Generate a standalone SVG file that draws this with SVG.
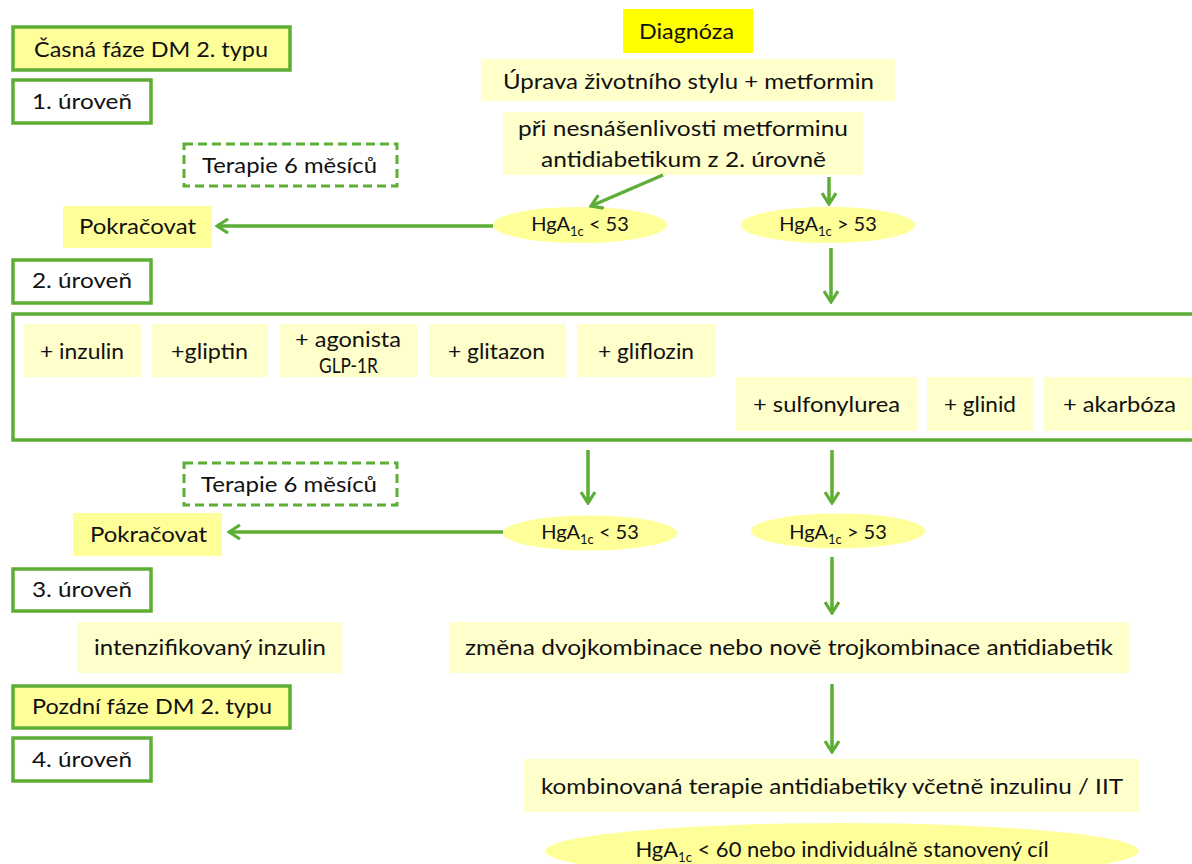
<svg xmlns="http://www.w3.org/2000/svg" width="1192" height="864" viewBox="0 0 1192 864">
<style>
text{font-family:Lato,"Open Sans","Liberation Sans",sans-serif;fill:#111;font-size:22px}
.lvl{fill:#fff;stroke:#5DAE34;stroke-width:3.5}
.phase{fill:#FFFF99;stroke:#5DAE34;stroke-width:3.5}
.dash{fill:#fff;stroke:#5DAE34;stroke-width:3;stroke-dasharray:9 5}
.pale{fill:#FFFFCC}
.yel{fill:#FFFF99}
.ell{fill:#FFFF99}
.hg{font-size:20px}
.sub{font-size:13px}
.c line{stroke:#5DAE34;stroke-width:3.5;marker-end:url(#arr)}
</style>
<defs>
<marker id="arr" viewBox="0 0 14 16" refX="12" refY="8" markerWidth="14" markerHeight="16" markerUnits="userSpaceOnUse" orient="auto">
<path d="M1,1 L12,8 L1,15" fill="none" stroke="#5DAE34" stroke-width="3.2"/>
</marker>
</defs>

<g id="casna"><rect class="phase" x="13" y="27" width="277" height="43"/><text x="34" y="57" textLength="234" lengthAdjust="spacingAndGlyphs">Časná fáze DM 2. typu</text></g>
<g id="lvl1"><rect class="lvl" x="13" y="80" width="138" height="43"/><text x="32" y="109" textLength="100" lengthAdjust="spacingAndGlyphs">1. úroveň</text></g>
<g id="terapie1"><rect class="dash" x="184" y="144" width="213" height="42"/><text x="202" y="173" textLength="175" lengthAdjust="spacingAndGlyphs">Terapie 6 měsíců</text></g>
<g id="pokracovat1"><rect class="yel" x="63" y="206" width="149" height="42"/><text x="79" y="234" textLength="117" lengthAdjust="spacingAndGlyphs">Pokračovat</text></g>
<g id="lvl2"><rect class="lvl" x="13" y="260" width="138" height="43"/><text x="32" y="288" textLength="100" lengthAdjust="spacingAndGlyphs">2. úroveň</text></g>

<g id="diagnoza"><rect x="623" y="9" width="130" height="44" fill="#FFFF00"/><text x="639" y="39" textLength="95" lengthAdjust="spacingAndGlyphs">Diagnóza</text></g>
<g id="uprava"><rect class="pale" x="481" y="59" width="414" height="42"/><text x="503" y="89" textLength="371" lengthAdjust="spacingAndGlyphs">Úprava životního stylu + metformin</text></g>
<g id="nesnasenlivost"><rect class="pale" x="503" y="112" width="360" height="63"/><text x="518" y="136" textLength="330" lengthAdjust="spacingAndGlyphs">při nesnášenlivosti metforminu</text><text x="541" y="167" textLength="285" lengthAdjust="spacingAndGlyphs">antidiabetikum z 2. úrovně</text></g>

<g id="hg1lt"><ellipse class="ell" cx="580" cy="225" rx="87" ry="18"/><text class="hg" x="580" y="231" text-anchor="middle">HgA<tspan class="sub" dy="5">1c</tspan><tspan dy="-5"> &lt; 53</tspan></text></g>
<g id="hg1gt"><ellipse class="ell" cx="828" cy="225" rx="87" ry="18"/><text class="hg" x="828" y="231" text-anchor="middle">HgA<tspan class="sub" dy="5">1c</tspan><tspan dy="-5"> &gt; 53</tspan></text></g>

<g id="lvl2box"><rect x="13" y="314" width="1200" height="126" fill="none" stroke="#5DAE34" stroke-width="3.5"/></g>
<g id="inzulin"><rect class="pale" x="24" y="324" width="117" height="53"/><text x="40" y="359" textLength="84" lengthAdjust="spacingAndGlyphs">+ inzulin</text></g>
<g id="gliptin"><rect class="pale" x="152" y="324" width="116" height="53"/><text x="171" y="359" textLength="77" lengthAdjust="spacingAndGlyphs">+gliptin</text></g>
<g id="agonista"><rect class="pale" x="280" y="324" width="137" height="53"/><text x="295" y="347" textLength="106" lengthAdjust="spacingAndGlyphs">+ agonista</text><text x="319" y="373" font-size="16" textLength="59" lengthAdjust="spacingAndGlyphs">GLP-1R</text></g>
<g id="glitazon"><rect class="pale" x="429" y="324" width="137" height="53"/><text x="448" y="359" textLength="97" lengthAdjust="spacingAndGlyphs">+ glitazon</text></g>
<g id="gliflozin"><rect class="pale" x="577" y="324" width="138" height="53"/><text x="598" y="359" textLength="96" lengthAdjust="spacingAndGlyphs">+ gliflozin</text></g>
<g id="sulfonylurea"><rect class="pale" x="736" y="377" width="181" height="54"/><text x="753" y="412" textLength="147" lengthAdjust="spacingAndGlyphs">+ sulfonylurea</text></g>
<g id="glinid"><rect class="pale" x="927" y="377" width="107" height="54"/><text x="944" y="412" textLength="72" lengthAdjust="spacingAndGlyphs">+ glinid</text></g>
<g id="akarboza"><rect class="pale" x="1044" y="377" width="160" height="54"/><text x="1063" y="412" textLength="113" lengthAdjust="spacingAndGlyphs">+ akarbóza</text></g>

<g id="terapie2"><rect class="dash" x="184" y="463" width="213" height="42"/><text x="201" y="492" textLength="176" lengthAdjust="spacingAndGlyphs">Terapie 6 měsíců</text></g>
<g id="pokracovat2"><rect class="yel" x="73" y="513" width="149" height="43"/><text x="90" y="542" textLength="117" lengthAdjust="spacingAndGlyphs">Pokračovat</text></g>
<g id="hg2lt"><ellipse class="ell" cx="590" cy="533" rx="87" ry="17.5"/><text class="hg" x="590" y="539" text-anchor="middle">HgA<tspan class="sub" dy="5">1c</tspan><tspan dy="-5"> &lt; 53</tspan></text></g>
<g id="hg2gt"><ellipse class="ell" cx="838" cy="531" rx="87" ry="17.5"/><text class="hg" x="838" y="539" text-anchor="middle">HgA<tspan class="sub" dy="5">1c</tspan><tspan dy="-5"> &gt; 53</tspan></text></g>

<g id="lvl3"><rect class="lvl" x="13" y="569" width="138" height="42"/><text x="32" y="597" textLength="100" lengthAdjust="spacingAndGlyphs">3. úroveň</text></g>
<g id="intenzifikovany"><rect class="pale" x="77" y="622" width="265" height="51"/><text x="94" y="655" textLength="232" lengthAdjust="spacingAndGlyphs">intenzifikovaný inzulin</text></g>
<g id="zmena"><rect class="pale" x="450" y="622" width="679" height="51"/><text x="465" y="655" textLength="648" lengthAdjust="spacingAndGlyphs">změna dvojkombinace nebo nově trojkombinace antidiabetik</text></g>
<g id="pozdni"><rect class="phase" x="13" y="686" width="277" height="42"/><text x="32" y="714" textLength="240" lengthAdjust="spacingAndGlyphs">Pozdní fáze DM 2. typu</text></g>
<g id="lvl4"><rect class="lvl" x="13" y="738" width="138" height="43"/><text x="32" y="767" textLength="100" lengthAdjust="spacingAndGlyphs">4. úroveň</text></g>
<g id="kombinovana"><rect class="pale" x="524" y="759" width="615" height="53"/><text x="541" y="794" textLength="582" lengthAdjust="spacingAndGlyphs">kombinovaná terapie antidiabetiky včetně inzulinu / IIT</text></g>
<g id="cil"><ellipse class="ell" cx="842" cy="851" rx="297" ry="28"/><text x="842" y="857" font-size="19" text-anchor="middle">HgA<tspan class="sub" dy="5">1c</tspan><tspan dy="-5"> &lt; 60 nebo individuálně stanovený cíl</tspan></text></g>

<g id="connectors" class="c">
<line x1="663" y1="175" x2="591" y2="206"/>
<line x1="829" y1="177" x2="829" y2="204"/>
<line x1="493" y1="226" x2="217" y2="226"/>
<line x1="831" y1="248" x2="831" y2="302"/>
<line x1="588" y1="450" x2="588" y2="503"/>
<line x1="832" y1="450" x2="832" y2="503"/>
<line x1="503" y1="532" x2="229" y2="532"/>
<line x1="832" y1="557" x2="832" y2="613"/>
<line x1="832" y1="684" x2="832" y2="752"/>
</g>
</svg>
